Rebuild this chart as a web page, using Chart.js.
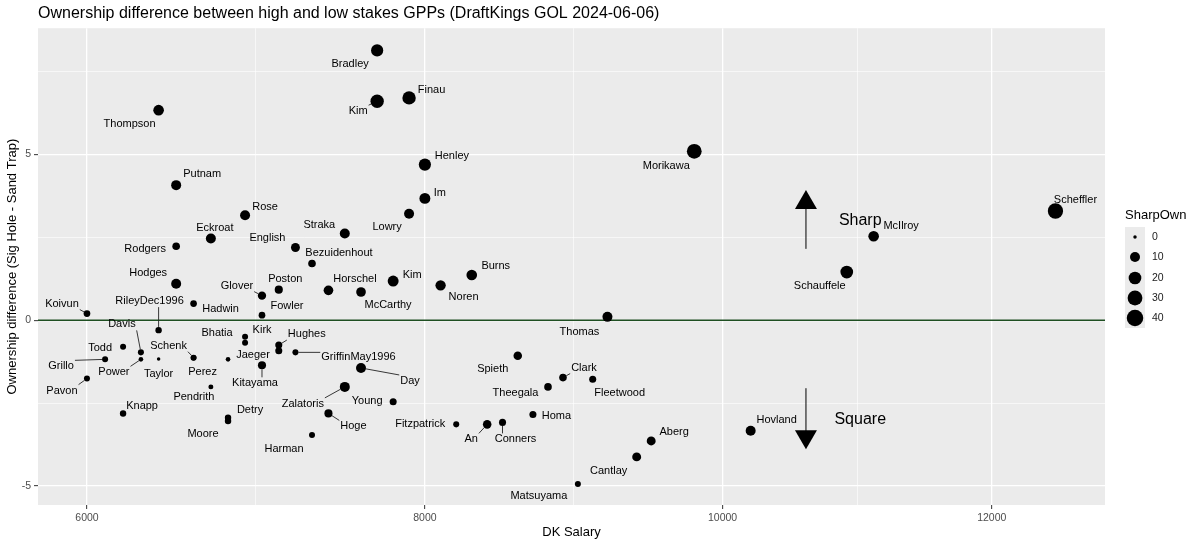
<!DOCTYPE html>
<html>
<head>
<meta charset="utf-8">
<script src="https://cdn.jsdelivr.net/npm/chart.js@4.4.1/dist/chart.umd.min.js"></script>
<style>
html, body { margin: 0; padding: 0; background: #fff; }
</style>
</head>
<body>
<canvas id="ownChart" width="1200" height="546"></canvas>
<script>
var players = ['Bradley','Kim','Finau','Thompson','Putnam','Henley','Im','Morikawa','Scheffler','McIlroy',
  'Schauffele','Thomas','Rose','Eckroat','Straka','Lowry','English','Rodgers','Bezuidenhout','Hodges',
  'Glover','Poston','Horschel','McCarthy','Kim','Noren','Burns','Koivun','RileyDec1996','Hadwin',
  'Fowler','Bhatia','Kirk','Hughes','','GriffinMay1996','Todd','Davis','Power','Taylor',
  'Grillo','Pavon','Schenk','Perez','Jaeger','Kitayama','Pendrith','Knapp','Detry','Moore',
  'Harman','Zalatoris','Hoge','Young','Day','Fitzpatrick','An','Conners','Homa','Spieth',
  'Theegala','Clark','Fleetwood','Matsuyama','Cantlay','Aberg','Hovland'];
var salary = [7700,7700,7900,6400,6500,8000,8000,9800,12500,11100,
  10900,9200,6900,6700,7500,7900,7200,6500,7300,6500,
  7000,7100,7400,7600,7800,8100,8300,6000,6400,6600,
  7000,6900,6900,7100,7100,7200,6200,6300,6300,6400,
  6100,6000,6600,6600,6800,7000,6700,6200,6800,6800,
  7300,7500,7400,7800,7600,8200,8400,8500,8700,8600,
  8800,8900,9100,9000,9400,9500,10200];
var ownDiff = [8.13,6.60,6.70,6.33,4.07,4.69,3.67,5.09,3.29,2.53,
  1.45,0.10,3.16,2.46,2.61,3.21,2.19,2.23,1.71,1.10,
  0.74,0.92,0.90,0.85,1.18,1.05,1.36,0.20,-0.30,0.50,
  0.15,-0.50,-0.68,-0.75,-0.92,-0.97,-0.80,-0.97,-1.18,-1.17,
  -1.18,-1.76,-1.13,-1.13,-1.18,-1.36,-2.01,-2.81,-2.94,-3.04,
  -3.46,-2.01,-2.81,-2.46,-1.44,-3.14,-3.14,-3.08,-2.84,-1.07,
  -2.01,-1.73,-1.78,-4.94,-4.12,-3.64,-3.33];
var sharpOwn = [18,23,23,12,10,18,13,30,33,12,
  20,10,10,10,10,10,7,4,4,10,
  5.5,5,9,9,13,11,12,2.4,2,2.4,
  2.4,1.5,1.5,3,3,1.5,1.5,1.5,0.3,0,
  1.5,1.5,1.5,1,0.3,5,0.5,2,2,2,
  1.5,10,5,3,10,1.5,6,3,3,6,
  4,4,3,1.5,7,7,10];

var xTicks = [6000, 8000, 10000, 12000];
var xMinorTicks = [6964, 8972, 10977];
var yTicks = [-5, 0, 5];
var yMinorTicks = [-2.5, 2.5, 7.5];
var legendValues = [0, 10, 20, 30, 40];

// annotation layer
var arrowSalary = 10600;
var arrowSpans = [[2.15, 3.92], [-2.05, -3.89]];
var noteSalary = 11000;
var notes = [['Sharp', 3], ['Square', -3]];

// where the repelled labels ended up: pixel offset from the point, and whether a leader line is drawn
var labelPlacement = [[-27,14,0],[-19,10,1],[22.5,-8,0],[-29,14,0],[26,-11,0],[27,-9,0],[15,-5,0],[-28,15,0],[20,-11,0],[27.5,-10,0],
  [-27,14,0],[-28,15,0],[20,-8,1],[4,-11,0],[-25.5,-9,0],[-22,13,0],[-28,-10,0],[-31,3,0],[27,-10,0],[-28,-11,0],
  [-25,-10,1],[6.5,-11,0],[26.5,-11,0],[27,13,0],[19,-6,0],[23,12,0],[24,-9,0],[-25,-10,1],[-9,-29,1],[27,5,0],
  [25,-9,0],[-28,-4,0],[17,-13,0],[28,-11,1],null,[63,5,1],[-23,1,0],[-19,-28,1],[-27,13,1],[0,15,0],
  [-44,7,1],[-25,12,1],[-25,-12,1],[9,14,0],[25,-4,0],[-7,18,1],[-17,10,0],[19,-7,1],[22,-8,0],[-25,13,0],
  [-28,14,0],[-42,17,1],[25,13,1],[-26,-1,0],[49,13,1],[-36,0,0],[-16,15,1],[13,17,1],[23.5,2,0],[-25,13,0],
  [-32.5,6,0],[21,-10,1],[27,14,0],[-39,12,0],[-28,14,0],[23,-9,0],[26,-11,0]];

var FONT = '"Liberation Sans", Arial, sans-serif';

function sizeFor(v) {
  return 1.75 + 3.25 * Math.sqrt(v / 10);
}

// square-root x axis, like scale_x_sqrt
class SqrtScale extends Chart.LinearScale {
  getPixelForValue(value) {
    var lo = Math.sqrt(this.min), hi = Math.sqrt(this.max);
    return this.getPixelForDecimal((Math.sqrt(value) - lo) / (hi - lo));
  }
  getValueForPixel(pixel) {
    var lo = Math.sqrt(this.min), hi = Math.sqrt(this.max);
    var s = lo + this.getDecimalForPixel(pixel) * (hi - lo);
    return s * s;
  }
}
SqrtScale.id = 'sqrt';
SqrtScale.defaults = {};
Chart.register(SqrtScale);

function isMajor(list, v) { return list.indexOf(v) >= 0; }

var decorPlugin = {
  id: 'decor',
  beforeDraw: function(chart) {
    var a = chart.chartArea, c = chart.ctx;
    c.save();
    c.fillStyle = '#EBEBEB';
    c.fillRect(a.left, a.top, a.right - a.left, a.bottom - a.top);
    c.restore();
  },
  beforeDatasetsDraw: function(chart) {
    var a = chart.chartArea, c = chart.ctx, xs = chart.scales.x, ys = chart.scales.y;
    c.save();
    var y0 = ys.getPixelForValue(0);
    c.strokeStyle = '#1f4f22';
    c.lineWidth = 1.5;
    c.beginPath(); c.moveTo(a.left, y0); c.lineTo(a.right, y0); c.stroke();

    // Sharp / Square arrows
    var ax = xs.getPixelForValue(arrowSalary);
    c.fillStyle = '#000'; c.strokeStyle = '#000'; c.lineWidth = 1;
    arrowSpans.forEach(function(s) {
      var y1 = ys.getPixelForValue(s[0]), y2 = ys.getPixelForValue(s[1]);
      var dir = y2 < y1 ? -1 : 1;
      c.beginPath(); c.moveTo(ax, y1); c.lineTo(ax, y2 - dir * 10); c.stroke();
      c.beginPath();
      c.moveTo(ax, y2);
      c.lineTo(ax - 11, y2 - dir * 19);
      c.lineTo(ax + 11, y2 - dir * 19);
      c.closePath(); c.fill();
    });
    c.font = '16px ' + FONT;
    c.textAlign = 'center'; c.textBaseline = 'middle';
    var nx = xs.getPixelForValue(noteSalary);
    notes.forEach(function(n) { c.fillText(n[0], nx, ys.getPixelForValue(n[1])); });
    c.restore();
  },
  afterDatasetsDraw: function(chart) {
    var c = chart.ctx, xs = chart.scales.x, ys = chart.scales.y;
    c.save();
    c.font = '11px ' + FONT;
    c.textAlign = 'center'; c.textBaseline = 'middle';
    for (var i = 0; i < players.length; i++) {
      var p = labelPlacement[i];
      if (!p || !players[i]) continue;
      var px = xs.getPixelForValue(salary[i]), py = ys.getPixelForValue(ownDiff[i]);
      var lx = px + p[0], ly = py + p[1];
      if (p[2]) {
        var w = c.measureText(players[i]).width;
        var bx = Math.max(lx - w / 2 - 1, Math.min(px, lx + w / 2 + 1));
        var by = Math.max(ly - 6, Math.min(py, ly + 6));
        var dx = bx - px, dy = by - py, d = Math.sqrt(dx * dx + dy * dy);
        var r = sizeFor(sharpOwn[i]);
        if (d > r + 2) {
          c.strokeStyle = '#222'; c.lineWidth = 0.9;
          c.beginPath();
          c.moveTo(px + dx / d * r, py + dy / d * r);
          c.lineTo(bx, by);
          c.stroke();
        }
      }
      c.fillStyle = '#000';
      c.fillText(players[i], lx, ly);
    }
    c.restore();
  },
  afterDraw: function(chart) {
    var c = chart.ctx;
    var rows = [237, 257, 278, 298, 318];
    c.save();
    c.fillStyle = '#000';
    c.font = '13px ' + FONT;
    c.textAlign = 'left'; c.textBaseline = 'middle';
    c.fillText('SharpOwn', 1125, 215);
    c.fillStyle = '#EBEBEB';
    c.fillRect(1125, 227, 20, 101);
    c.font = '10.5px ' + FONT;
    legendValues.forEach(function(v, k) {
      c.fillStyle = '#000';
      c.beginPath(); c.arc(1135, rows[k], sizeFor(v), 0, Math.PI * 2); c.fill();
      c.fillStyle = '#1a1a1a';
      c.fillText(String(v), 1152, rows[k]);
    });
    c.restore();
  }
};

var chart = new Chart(document.getElementById('ownChart').getContext('2d'), {
  type: 'scatter',
  data: {
    datasets: [{
      data: salary.map(function(s, i) { return { x: s, y: ownDiff[i] }; }),
      backgroundColor: '#000',
      borderWidth: 0,
      pointRadius: function(ctx) { return sizeFor(sharpOwn[ctx.dataIndex]); },
      pointHoverRadius: function(ctx) { return sizeFor(sharpOwn[ctx.dataIndex]); }
    }]
  },
  plugins: [decorPlugin],
  options: {
    responsive: false,
    animation: false,
    events: [],
    layout: { padding: { left: 0, right: 95, top: 0, bottom: 0 } },
    plugins: {
      legend: { display: false },
      tooltip: { enabled: false },
      title: {
        display: true,
        text: 'Ownership difference between high and low stakes GPPs (DraftKings GOL 2024-06-06)',
        align: 'start',
        fullSize: false,
        color: '#000',
        font: { family: FONT, size: 16, weight: 'normal' },
        padding: { top: 4, bottom: 5 }
      }
    },
    scales: {
      x: {
        type: 'sqrt',
        min: 5734,
        max: 12896,
        afterBuildTicks: function(scale) {
          scale.ticks = xTicks.concat(xMinorTicks).sort(function(a, b) { return a - b; })
            .map(function(v) { return { value: v }; });
        },
        afterFit: function(scale) { scale.height = 41; },
        border: { display: false },
        grid: {
          color: '#fff',
          lineWidth: function(ctx) { return isMajor(xTicks, ctx.tick.value) ? 1.3 : 0.6; },
          tickColor: function(ctx) { return isMajor(xTicks, ctx.tick.value) ? '#333' : 'rgba(0,0,0,0)'; },
          tickWidth: 1,
          tickLength: 4
        },
        ticks: {
          autoSkip: false,
          maxRotation: 0,
          padding: 3,
          color: '#4D4D4D',
          font: { family: FONT, size: 10.5 },
          callback: function(v) { return isMajor(xTicks, v) ? String(v) : ''; }
        },
        title: {
          display: true,
          text: 'DK Salary',
          color: '#000',
          font: { family: FONT, size: 13 },
          padding: { top: 0, bottom: 6 }
        }
      },
      y: {
        type: 'linear',
        min: -5.57,
        max: 8.80,
        afterBuildTicks: function(scale) {
          scale.ticks = yTicks.concat(yMinorTicks).sort(function(a, b) { return a - b; })
            .map(function(v) { return { value: v }; });
        },
        afterFit: function(scale) { scale.width = 38; },
        border: { display: false },
        grid: {
          color: '#fff',
          lineWidth: function(ctx) { return isMajor(yTicks, ctx.tick.value) ? 1.3 : 0.6; },
          tickColor: function(ctx) { return isMajor(yTicks, ctx.tick.value) ? '#333' : 'rgba(0,0,0,0)'; },
          tickWidth: 1,
          tickLength: 4
        },
        ticks: {
          autoSkip: false,
          padding: 3,
          color: '#4D4D4D',
          font: { family: FONT, size: 10.5 },
          callback: function(v) { return isMajor(yTicks, v) ? String(v) : ''; }
        },
        title: {
          display: true,
          text: 'Ownership difference (Sig Hole - Sand Trap)',
          color: '#000',
          font: { family: FONT, size: 13 },
          padding: { top: 5, bottom: 0 }
        }
      }
    }
  }
});
</script>
</body>
</html>
